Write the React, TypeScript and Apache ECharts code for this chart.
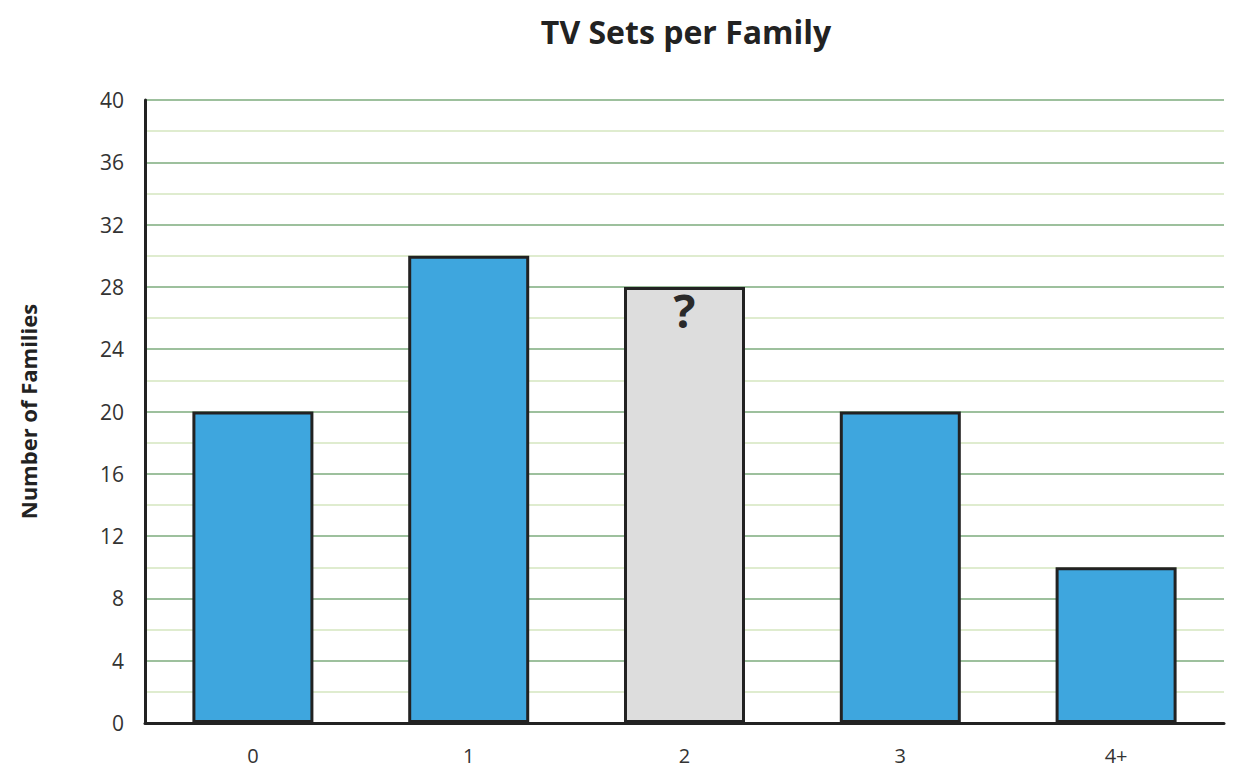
import React, { useEffect, useRef } from "react";
import * as echarts from "echarts";

const categories = ["0", "1", "2", "3", "4+"];
const values = [20, 30, 28, 20, 10];
const unknownIndex = 2;
const yTicks = { min: 0, max: 40, interval: 4 };

const FONT = "'Open Sans', 'Noto Sans', sans-serif";

export default function App() {
  const ref = useRef<HTMLDivElement>(null);
  useEffect(() => {
    if (!ref.current) return;
    const chart = echarts.init(ref.current, undefined, { renderer: "svg" });
    chart.setOption({
      animation: false,
      title: {
        text: "TV Sets per Family",
        left: 681,
        top: 10,
        textAlign: "center",
        textStyle: { fontFamily: FONT, fontSize: 32, fontWeight: "bold", color: "#222" },
      },
      grid: { left: 145, right: 18, top: 100, bottom: 59 },
      xAxis: {
        type: "category",
        data: categories,
        axisLine: { show: true, lineStyle: { color: "#222", width: 3 } },
        axisTick: { show: false },
        axisLabel: { fontFamily: FONT, fontSize: 20, color: "#333", margin: 22 },
      },
      yAxis: {
        type: "value",
        min: yTicks.min,
        max: yTicks.max,
        interval: yTicks.interval,
        name: "Number of Families",
        nameLocation: "middle",
        nameGap: 106,
        nameTextStyle: { fontFamily: FONT, fontSize: 22, fontWeight: "bold", color: "#222" },
        axisLine: { show: true, lineStyle: { color: "#222", width: 3 } },
        axisTick: { show: false },
        axisLabel: { fontFamily: FONT, fontSize: 21, color: "#333", margin: 21 },
        splitLine: { show: true, lineStyle: { color: "#9dc09d", width: 2 } },
        minorTick: { show: false, splitNumber: 2 },
        minorSplitLine: { show: true, lineStyle: { color: "#dfeccf", width: 2 } },
      },
      series: [
        {
          type: "bar",
          barWidth: 121,
          data: values.map((v, i) =>
            i === unknownIndex
              ? {
                  value: v,
                  itemStyle: { color: "#dddddd" },
                  label: {
                    show: true,
                    position: "insideTop",
                    formatter: "?",
                    fontFamily: FONT,
                    fontSize: 46,
                    fontWeight: "bold",
                    color: "#2a2a2a",
                    distance: 0,
                  },
                }
              : { value: v }
          ),
          itemStyle: { color: "#3ea6de", borderColor: "#222", borderWidth: 3 },
        },
      ],
    });
    return () => chart.dispose();
  }, []);
  return <div ref={ref} style={{ width: 1242, height: 782, position: "absolute", left: 0, top: 0 }} />;
}
